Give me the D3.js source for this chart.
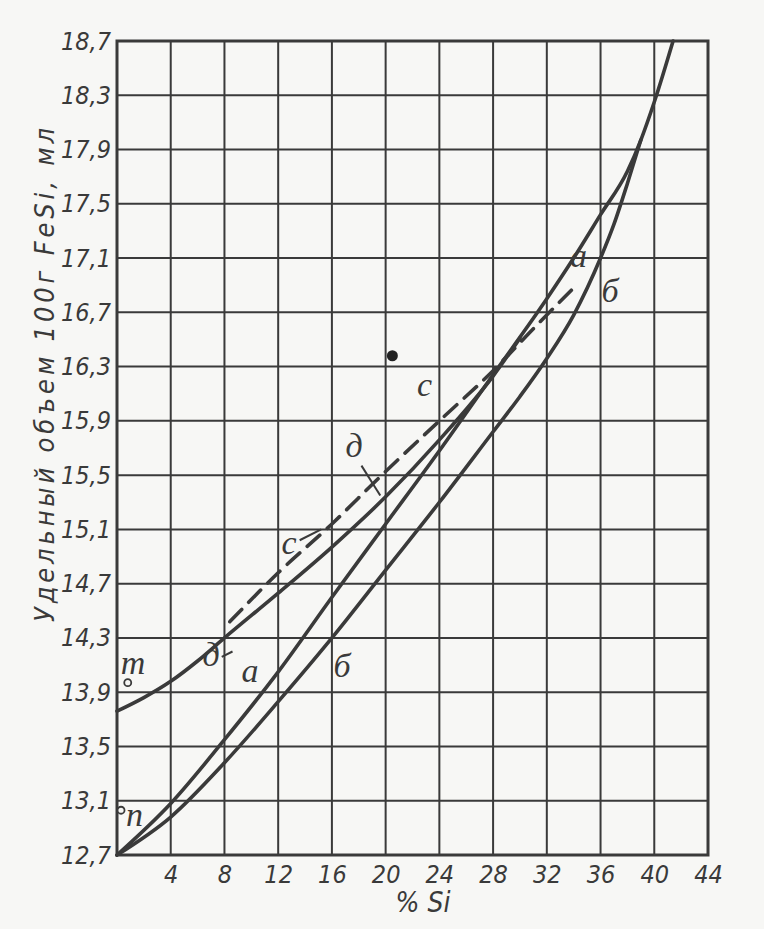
<!DOCTYPE html>
<html><head><meta charset="utf-8">
<script src="https://cdn.jsdelivr.net/npm/d3@7"></script>
<style>
html,body{margin:0;padding:0;background:#f7f7f5;}
svg{display:block;}
</style></head>
<body>
<script>
// ---- data ----
const xTicks = [4, 8, 12, 16, 20, 24, 28, 32, 36, 40, 44];
const yTicks = [12.7, 13.1, 13.5, 13.9, 14.3, 14.7, 15.1, 15.5, 15.9, 16.3, 16.7, 17.1, 17.5, 17.9, 18.3, 18.7];

const siA = [0, 4, 8, 12, 16, 20, 24, 28, 32, 34, 36, 38, 39, 40, 41.4];
const volA = [12.7, 13.08, 13.55, 14.05, 14.6, 15.14, 15.68, 16.24, 16.8, 17.1, 17.42, 17.74, 17.97, 18.25, 18.7];

const siB = [0, 4, 8, 12, 16, 20, 24, 28, 30, 32, 34, 36, 37, 38, 39];
const volB = [12.7, 12.98, 13.38, 13.83, 14.3, 14.8, 15.3, 15.82, 16.08, 16.36, 16.68, 17.1, 17.35, 17.65, 17.97];

const siD = [0, 2, 4, 6, 8, 12, 16, 20, 24, 28, 30];
const volD = [13.76, 13.86, 13.98, 14.13, 14.3, 14.63, 14.97, 15.34, 15.76, 16.23, 16.51];

const siC = [8.4, 12, 16, 19.5, 24, 28, 31, 34.2];
const volC = [14.42, 14.78, 15.14, 15.48, 15.9, 16.27, 16.58, 16.9];

const dotSi = [20.5], dotVol = [16.38];
const openSi = [0.8, 0.3], openVol = [13.97, 13.03];

const labelText = ["а", "б", "с", "д", "с", "д", "а", "б", "т", "п"];
const labelSi   = [34.35, 36.7, 22.9, 17.65, 12.8, 7.0, 9.9, 16.75, 1.2, 1.3];
const labelVol  = [17.12, 16.86, 16.17, 15.72, 15.0, 14.18, 14.06, 14.1, 14.12, 13.0];

const xTitle = "% Si";
const yTitle = "Удельный объем 100г FeSi, мл";

// ---- drawing ----
const W = 764, H = 929;
const ink = "#3a3a3a";
const svg = d3.select("body").append("svg").attr("width", W).attr("height", H);
svg.append("rect").attr("width", W).attr("height", H).attr("fill", "#f7f7f5");

const x = d3.scaleLinear().domain([0, 44]).range([117, 708]);
const y = d3.scaleLinear().domain([12.7, 18.7]).range([855, 41]);
const numFont = "'Liberation Sans Narrow','DejaVu Sans Condensed','Liberation Sans',sans-serif";
const fmt = v => d3.format(".1f")(v).replace(".", ",");

// grid
const g = svg.append("g");
g.selectAll("line.v").data(xTicks).join("line")
  .attr("x1", d => x(d)).attr("x2", d => x(d)).attr("y1", y(12.7)).attr("y2", y(18.7))
  .attr("stroke", ink).attr("stroke-width", 2);
g.selectAll("line.h").data(yTicks).join("line")
  .attr("y1", d => y(d)).attr("y2", d => y(d)).attr("x1", x(0)).attr("x2", x(44))
  .attr("stroke", ink).attr("stroke-width", 2);
g.append("rect").attr("x", x(0)).attr("y", y(18.7)).attr("width", x(44) - x(0)).attr("height", y(12.7) - y(18.7))
  .attr("fill", "none").attr("stroke", ink).attr("stroke-width", 3);

// axes
const xAxis = d3.axisBottom(x).tickValues(xTicks).tickSize(0).tickPadding(10).tickFormat(d3.format("d"));
const xa = svg.append("g").attr("transform", `translate(0,${y(12.7)})`).call(xAxis);
xa.select(".domain").remove();
xa.selectAll("text").attr("font-family", numFont).attr("font-style", "italic").attr("font-size", 25).attr("fill", ink);

const yAxis = d3.axisLeft(y).tickValues(yTicks).tickSize(0).tickPadding(6).tickFormat(fmt);
const ya = svg.append("g").attr("transform", `translate(${x(0)},0)`).call(yAxis);
ya.select(".domain").remove();
ya.selectAll("text").attr("font-family", numFont).attr("font-style", "italic").attr("font-size", 25).attr("fill", ink);

// titles
svg.append("text").attr("x", 423).attr("y", 912).attr("text-anchor", "middle")
  .attr("font-family", numFont).attr("font-style", "italic").attr("font-size", 28).attr("fill", ink).text(xTitle);
svg.append("text").attr("transform", "translate(54,375) rotate(-90)").attr("text-anchor", "middle")
  .attr("font-family", numFont).attr("font-style", "italic").attr("font-size", 27).attr("fill", ink)
  .attr("textLength", 494).attr("lengthAdjust", "spacing").text(yTitle);

// curves
const line = d3.line().x(d => x(d[0])).y(d => y(d[1])).curve(d3.curveMonotoneX);
const zip = (a, b) => a.map((v, i) => [v, b[i]]);
const curves = [
  {pts: zip(siA, volA), dash: null},
  {pts: zip(siB, volB), dash: null},
  {pts: zip(siD, volD), dash: null},
  {pts: zip(siC, volC), dash: "17,10"}
];
svg.append("g").selectAll("path").data(curves).join("path")
  .attr("d", d => line(d.pts)).attr("fill", "none").attr("stroke", ink).attr("stroke-width", 3.6)
  .attr("stroke-dasharray", d => d.dash).attr("stroke-linecap", "round");

// points
svg.append("g").selectAll("circle").data(zip(dotSi, dotVol)).join("circle")
  .attr("cx", d => x(d[0])).attr("cy", d => y(d[1])).attr("r", 5.5).attr("fill", "#222");
svg.append("g").selectAll("circle").data(zip(openSi, openVol)).join("circle")
  .attr("cx", d => x(d[0])).attr("cy", d => y(d[1])).attr("r", 3.5).attr("fill", "#f7f7f5")
  .attr("stroke", ink).attr("stroke-width", 1.8);

// labels
svg.append("g").selectAll("text").data(labelText).join("text")
  .attr("x", (d, i) => x(labelSi[i])).attr("y", (d, i) => y(labelVol[i]))
  .attr("text-anchor", "middle").attr("dominant-baseline", "central")
  .attr("font-family", "'Liberation Serif','DejaVu Serif',serif").attr("font-style", "italic")
  .attr("font-size", 34).attr("fill", ink).text(d => d);

// leader strokes near labels
const leaders = [
  [[18.2, 15.57], [19.6, 15.35]],
  [[13.6, 15.02], [15.2, 15.1]],
  [[7.8, 14.16], [8.6, 14.2]]
];
svg.append("g").selectAll("path").data(leaders).join("path")
  .attr("d", d => d3.line().x(p => x(p[0])).y(p => y(p[1]))(d))
  .attr("stroke", ink).attr("stroke-width", 2).attr("fill", "none");
</script>
</body></html>
